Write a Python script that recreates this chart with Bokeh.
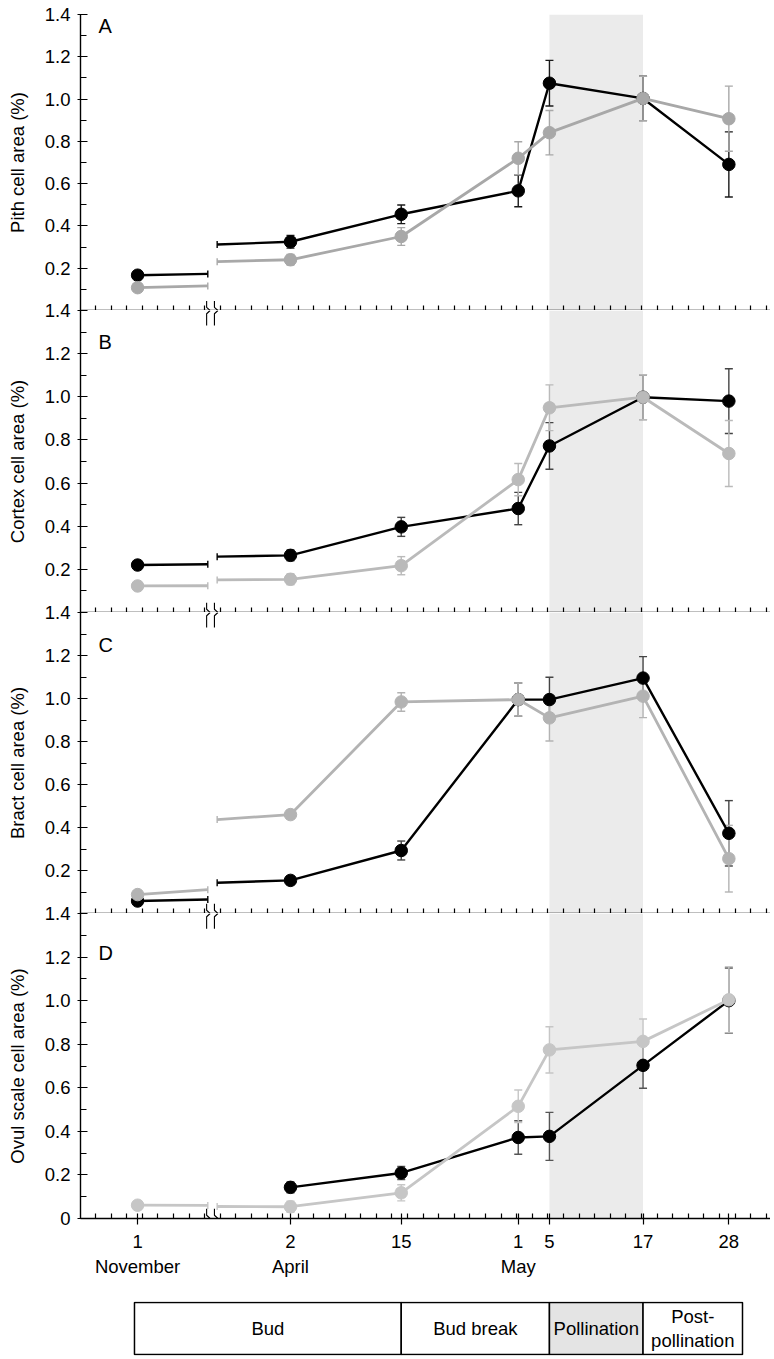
import math
from bokeh.plotting import figure
from bokeh.models import Range1d, FixedTicker, ColumnDataSource, Whisker, TeeHead, Label
from bokeh.layouts import column
from bokeh.embed import file_html
from bokeh.resources import INLINE
from bokeh.core.properties import value

FONT = "Liberation Sans"
NAN = float("nan")

# ---------------- data ----------------
# x positions on the time axis (axis units ~ days after 31 March; November sample sits left of the axis break)
dates = ["1 Nov", "2 Apr", "15 Apr", "1 May", "5 May", "17 May", "28 May"]
x_pos = [-17.6, 2.0, 16.2, 31.2, 35.2, 47.2, 58.2]
tick_labels = ["1\nNovember", "2\nApril", "15", "1\nMay", "5", "17", "28"]
minor_x = list(range(-23, 64, 2))
break_left, break_right = -8.6, -7.4
break_marks = [-8.75, -7.75]
pollination = [35.2, 47.2]

phases = ["Bud", "Bud break", "Pollination", "Post-\npollination"]
phase_start = [-18.0, 16.2, 35.2, 47.2]
phase_end = [16.2, 35.2, 47.2, 59.95]
phase_fill = ["white", "white", "#e4e4e4", "white"]

y_ticks = [0.0, 0.2, 0.4, 0.6, 0.8, 1.0, 1.2, 1.4]
y_tick_labels = ["0", "0.2", "0.4", "0.6", "0.8", "1.0", "1.2", "1.4"]
y_minor = [0.1, 0.3, 0.5, 0.7, 0.9, 1.1, 1.3]

# Panel A - Pith
pith_black = [0.167, 0.325, 0.455, 0.566, 1.075, 1.003, 0.691]
pith_black_err = [0.0, 0.030, 0.044, 0.075, 0.108, 0.105, 0.154]
pith_black_break = [0.173, 0.312]
pith_gray = [0.108, 0.240, 0.350, 0.720, 0.841, 1.003, 0.907]
pith_gray_err = [0.0, 0.025, 0.042, 0.078, 0.105, 0.105, 0.154]
pith_gray_break = [0.116, 0.231]

# Panel B - Cortex
cortex_black = [0.220, 0.265, 0.397, 0.482, 0.772, 0.998, 0.980]
cortex_black_err = [0.0, 0.025, 0.044, 0.075, 0.108, 0.104, 0.150]
cortex_black_break = [0.224, 0.259]
cortex_gray = [0.123, 0.154, 0.217, 0.616, 0.949, 0.998, 0.737]
cortex_gray_err = [0.0, 0.025, 0.042, 0.075, 0.106, 0.104, 0.153]
cortex_gray_break = [0.124, 0.151]

# Panel C - Bract
bract_black = [0.058, 0.154, 0.293, 0.995, 0.995, 1.095, 0.373]
bract_black_err = [0.0, 0.020, 0.044, 0.077, 0.104, 0.100, 0.152]
bract_black_break = [0.065, 0.143]
bract_gray = [0.088, 0.460, 0.984, 0.995, 0.910, 1.011, 0.255]
bract_gray_err = [0.0, 0.020, 0.043, 0.077, 0.108, 0.100, 0.155]
bract_gray_break = [0.111, 0.437]

# Panel D - Ovule scale
ovul_black = [NAN, 0.143, 0.209, 0.372, 0.377, 0.703, 1.000]
ovul_black_err = [0.0, 0.025, 0.030, 0.077, 0.110, 0.105, 0.150]
ovul_black_break = None
ovul_gray = [0.061, 0.054, 0.118, 0.515, 0.774, 0.813, 1.004]
ovul_gray_err = [0.0, 0.025, 0.037, 0.075, 0.106, 0.103, 0.152]
ovul_gray_break = [0.060, 0.055]

LEFT = 80
WIDTH = 770
OVERLAP = 12
xr = Range1d(-24.92, 63.54)


def add_series(p, vals, errs, brk, color, err_color, lw):
    xs, up, lo = [], [], []
    for x, v, e in zip(x_pos, vals, errs):
        if e > 0 and not math.isnan(v):
            xs.append(x); up.append(v + e); lo.append(v - e)
    src = ColumnDataSource(dict(base=xs, upper=up, lower=lo))
    w = Whisker(base="base", upper="upper", lower="lower", source=src,
                line_color=err_color, line_width=1.4, level="underlay",
                upper_head=TeeHead(size=8, line_color=err_color, line_width=1.4),
                lower_head=TeeHead(size=8, line_color=err_color, line_width=1.4))
    p.add_layout(w)
    if brk is not None:
        p.line([x_pos[0], break_left], [vals[0], brk[0]], line_color=color, line_width=lw)
        p.scatter([break_left, break_right], brk, marker="dash", angle=math.pi / 2,
                  size=7, line_color=color, line_width=1.4)
        rx = [break_right] + x_pos[1:]
        ry = [brk[1]] + vals[1:]
    else:
        rx = x_pos[1:]
        ry = vals[1:]
    p.line(rx, ry, line_color=color, line_width=lw)
    p.scatter(x_pos, vals, size=12.5, fill_color=color, line_color=color)


def panel(letter, letter_y, ylabel, data, gray_color, black_err_color,
          frame_h, top_border, bottom_border=0, last=False, shifted=True):
    p = figure(width=WIDTH, height=top_border + frame_h + bottom_border,
               x_range=xr, y_range=Range1d(0, 1.4),
               output_backend="svg", toolbar_location=None,
               min_border_left=LEFT, min_border_right=0,
               min_border_top=top_border, min_border_bottom=bottom_border,
               outline_line_color=None, border_fill_color=None,
               margin=(-OVERLAP, 0, 0, 0) if shifted else (0, 0, 0, 0))
    p.xgrid.visible = False
    p.ygrid.visible = False

    p.quad(left=[pollination[0]], right=[pollination[1]], bottom=[0], top=[1.4],
           fill_color="#ebebeb", line_color=None, level="underlay")

    (bv, be, bb, gv, ge, gb) = data
    add_series(p, bv, be, bb, "black", black_err_color, 2.4)
    add_series(p, gv, ge, gb, gray_color, gray_color, 2.8)

    for x0 in break_marks:
        p.line([x0, x0, x0 + 0.45], [0.045, 0.015, 0.0], line_color="black", line_width=1.1)
        if shifted:
            p.line([x0 + 0.45, x0, x0], [1.4, 1.385, 1.33], line_color="black", line_width=1.1)

    p.add_layout(Label(x=-22.6, y=letter_y, text=letter, text_font=FONT, text_color="black",
                       text_font_size="20px", text_baseline="top", text_align="left"))

    ya = p.yaxis[0]
    ticks = y_ticks if last else y_ticks[1:]
    ya.ticker = FixedTicker(ticks=ticks, minor_ticks=y_minor)
    ya.major_label_overrides = {t: l for t, l in zip(y_ticks, y_tick_labels) if t in ticks}
    ya.major_tick_in = 7
    ya.major_tick_out = 3
    ya.minor_tick_in = 6
    ya.minor_tick_out = 0
    ya.axis_line_width = 1.4
    ya.major_tick_line_width = 1.2
    ya.minor_tick_line_width = 1.2
    ya.major_label_standoff = 7
    ya.major_label_text_font = FONT
    ya.major_label_text_font_size = "18.5px"
    ya.major_label_text_color = "black"
    ya.axis_label = ylabel
    ya.axis_label_text_font = FONT
    ya.axis_label_text_font_size = "18.5px"
    ya.axis_label_text_font_style = "normal"
    ya.axis_label_text_color = "black"
    ya.axis_label_standoff = 14

    xa = p.xaxis[0]
    xa.axis_line_width = 1.4
    xa.minor_tick_in = 5
    xa.minor_tick_out = 0
    xa.minor_tick_line_width = 1.2
    if last:
        xa.ticker = FixedTicker(ticks=x_pos, minor_ticks=minor_x)
        xa.major_label_overrides = {x: t for x, t in zip(x_pos, tick_labels)}
        xa.major_tick_in = 5
        xa.major_tick_out = 6
        xa.major_tick_line_width = 1.2
        xa.major_label_standoff = 6
        xa.major_label_text_font = FONT
        xa.major_label_text_font_size = "18.5px"
        xa.major_label_text_color = "black"
    else:
        xa.ticker = FixedTicker(ticks=[], minor_ticks=minor_x)
        xa.major_tick_in = 0
        xa.major_tick_out = 0
        xa.major_label_standoff = 0
        xa.major_label_text_font_size = "0px"
    return p


pA = panel("A", 1.40, "Pith cell area (%)",
           (pith_black, pith_black_err, pith_black_break, pith_gray, pith_gray_err, pith_gray_break),
           "#a8a8a8", "#1a1a1a", 296, 14, shifted=False)
pB = panel("B", 1.303, "Cortex cell area (%)",
           (cortex_black, cortex_black_err, cortex_black_break, cortex_gray, cortex_gray_err, cortex_gray_break),
           "#bababa", "#444444", 302, OVERLAP)
pC = panel("C", 1.30, "Bract cell area (%)",
           (bract_black, bract_black_err, bract_black_break, bract_gray, bract_gray_err, bract_gray_break),
           "#b3b3b3", "#444444", 301, OVERLAP)
pD = panel("D", 1.271, "Ovul scale cell area (%)",
           (ovul_black, ovul_black_err, ovul_black_break, ovul_gray, ovul_gray_err, ovul_gray_break),
           "#c6c6c6", "#555555", 305, OVERLAP, bottom_border=82, last=True)

# phase bar
pb = figure(width=WIDTH, height=57, x_range=xr, y_range=Range1d(-0.02, 1.02),
            x_axis_location=None, y_axis_location=None,
            output_backend="svg", toolbar_location=None,
            min_border_left=LEFT, min_border_right=0, min_border_top=1, min_border_bottom=2,
            outline_line_color=None)
pb.xgrid.visible = False
pb.ygrid.visible = False
pb.quad(left=phase_start, right=phase_end, bottom=0, top=1,
        fill_color=phase_fill, line_color="black", line_width=1.5)
centers = [(a + b) / 2 for a, b in zip(phase_start, phase_end)]
pb.text(x=centers, y=[0.5] * len(phases), text=phases, text_align="center",
        text_baseline="middle", text_font=value(FONT), text_font_size="18.5px",
        text_color="black", text_line_height=1.15)

layout = column(pA, pB, pC, pD, pb, spacing=0)
open("out.html", "w").write(file_html(layout, INLINE))
